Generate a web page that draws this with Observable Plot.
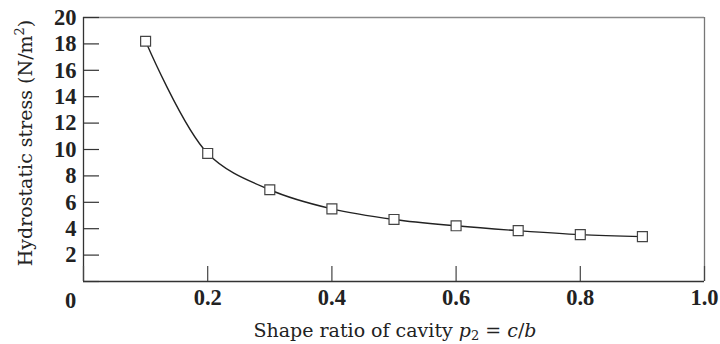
<!DOCTYPE html>
<html>
<head>
<meta charset="utf-8">
<script src="https://cdn.jsdelivr.net/npm/d3@7"></script>
<script src="https://cdn.jsdelivr.net/npm/@observablehq/plot@0.6"></script>
<style>
  html, body { margin: 0; padding: 0; background: #fff; }
  svg { display: block; }
</style>
</head>
<body>
<div id="chart"></div>
<script>
const ratio = [0.1, 0.2, 0.3, 0.4, 0.5, 0.6, 0.7, 0.8, 0.9];
const stress = [18.2, 9.7, 6.95, 5.5, 4.7, 4.22, 3.85, 3.55, 3.4];
const xTicks = [0.2, 0.4, 0.6, 0.8, 1.0];
const xTickLabels = ["0.2", "0.4", "0.6", "0.8", "1.0"];
const yTicks = [2, 4, 6, 8, 10, 12, 14, 16, 18, 20];
const yTickLabels = ["2", "4", "6", "8", "10", "12", "14", "16", "18", "20"];
const originLabel = "0";

const data = ratio.map((r, i) => ({r, s: stress[i]}));

const W = 720, H = 344;
const mL = 83, mR = 16, mT = 17, mB = 63;
const innerW = W - mL - mR, innerH = H - mT - mB;
const tickLen = 15;
const tickFont = "Liberation Serif";
const titleFont = "DejaVu Serif";
const tickFontSize = 22.5;

const chart = Plot.plot({
  width: W,
  height: H,
  marginLeft: mL,
  marginRight: mR,
  marginTop: mT,
  marginBottom: mB,
  style: {fontFamily: tickFont, background: "#fff", overflow: "visible"},
  x: {domain: [0, 1]},
  y: {domain: [0, 20]},
  marks: [
    // frame
    Plot.ruleY([20], {stroke: "#8a8a8a", strokeWidth: 1.3}),
    Plot.ruleX([1], {stroke: "#777", strokeWidth: 1.3}),
    Plot.ruleY([0], {stroke: "#333", strokeWidth: 1.3}),
    Plot.ruleX([0], {stroke: "#333", strokeWidth: 1.3}),
    // inward ticks
    Plot.tickX([0, ...xTicks], {x: d => d, insetTop: innerH - tickLen, stroke: "#444", strokeWidth: 1.2}),
    Plot.tickY([0, ...yTicks], {y: d => d, insetRight: innerW - 16, stroke: "#333", strokeWidth: 1.2}),
    // tick labels
    Plot.axisX({ticks: xTicks, tickSize: 0, tickPadding: 8, tickFormat: (d) => xTickLabels[xTicks.indexOf(d)], fontSize: tickFontSize, fontWeight: "bold", fill: "#222", label: null}),
    Plot.axisY({ticks: yTicks, tickSize: 0, tickPadding: 7, tickFormat: (d) => yTickLabels[yTicks.indexOf(d)], fontSize: tickFontSize, fontWeight: "bold", fill: "#222", label: null}),
    Plot.text([originLabel], {x: 0, y: 0, text: d => d, dx: -13, dy: 19, fontSize: tickFontSize, fontWeight: "bold", fill: "#222"}),
    // data
    Plot.line(data, {x: "r", y: "s", curve: "catmull-rom", stroke: "#222", strokeWidth: 1.4}),
    Plot.dot(data, {x: "r", y: "s", symbol: "square", r: 5.6, fill: "#fff", stroke: "#444", strokeWidth: 1.2})
  ]
});

// axis titles with italics / sub / superscripts
const svg = d3.select(chart);
const xt = svg.append("text")
  .attr("x", 395)
  .attr("y", 337)
  .attr("text-anchor", "middle")
  .attr("font-family", titleFont)
  .attr("font-size", 19)
  .attr("fill", "#222");
xt.append("tspan").text("Shape ratio of cavity ");
xt.append("tspan").attr("font-style", "italic").text("p");
xt.append("tspan").attr("font-size", 13).attr("dy", 3).text("2");
xt.append("tspan").attr("dy", -3).text(" = ");
xt.append("tspan").attr("font-style", "italic").text("c");
xt.append("tspan").text("/");
xt.append("tspan").attr("font-style", "italic").text("b");

const yt = svg.append("text")
  .attr("transform", `translate(32, ${143}) rotate(-90)`)
  .attr("text-anchor", "middle")
  .attr("font-family", titleFont)
  .attr("font-size", 19)
  .attr("fill", "#222");
yt.append("tspan").text("Hydrostatic stress (N/m");
yt.append("tspan").attr("font-size", 13).attr("dy", -8).text("2");
yt.append("tspan").attr("dy", 8).text(")");

document.getElementById("chart").appendChild(chart);
</script>
</body>
</html>
